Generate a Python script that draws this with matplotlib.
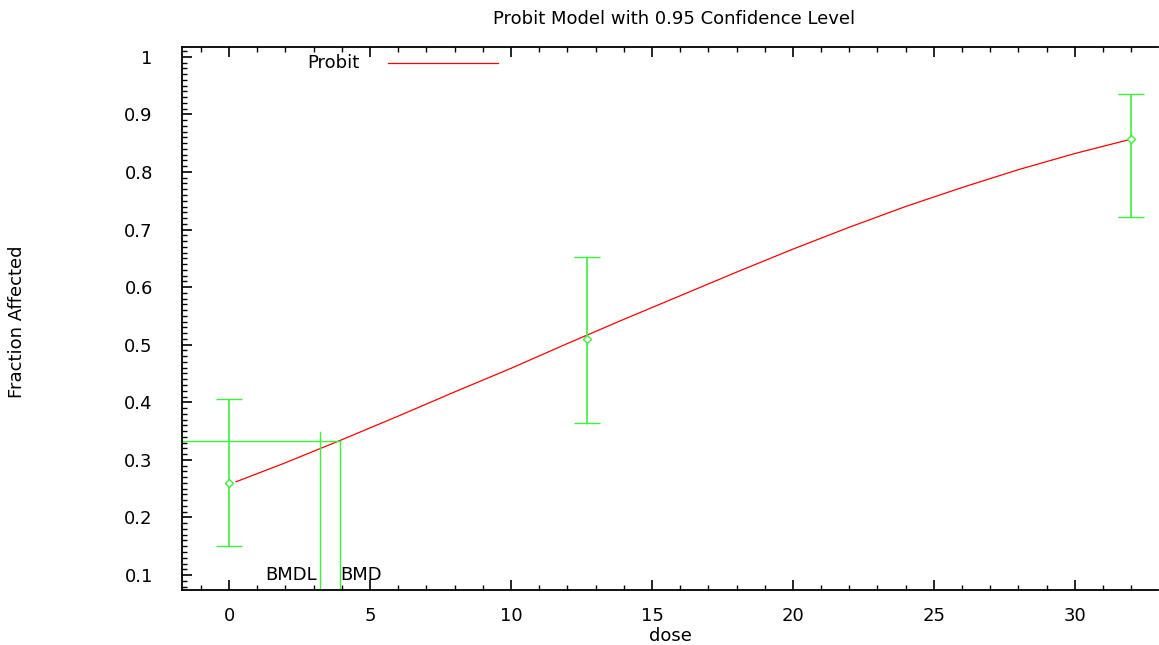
import matplotlib.pyplot as plt
from matplotlib.ticker import MultipleLocator

plt.rcParams['font.family'] = ['DejaVu Sans']

# observed data with 95% confidence limits
dose = [0, 12.7, 32]
frac = [0.26, 0.51, 0.857]
lower = [0.151, 0.364, 0.722]
upper = [0.406, 0.653, 0.935]

# fitted probit curve
curve_x = [0.25, 2, 4, 6, 8, 10, 12, 14, 16, 18, 20, 22, 24, 26, 28, 30, 32]
curve_y = [0.262, 0.295, 0.335, 0.376, 0.418, 0.459, 0.502, 0.544, 0.585, 0.626, 0.666,
           0.704, 0.740, 0.773, 0.804, 0.832, 0.857]

bmd = 3.94
bmdl = 3.23
bmr_level = 0.333
bmdl_top = 0.348

green = '#3cf03c'
fs = 13

fig = plt.figure(figsize=(11.59, 6.45), dpi=100)
ax = fig.add_axes([182/1159, 1 - 590/645, 976/1159, 543/645])

ax.plot(curve_x, curve_y, color='red', lw=0.9)

yerr = [[f - l for f, l in zip(frac, lower)], [u - f for f, u in zip(frac, upper)]]
ax.errorbar(dose, frac, yerr=yerr, fmt='D', color=green, mfc='white', mec=green,
            ms=4, mew=1, capsize=9.5, elinewidth=1.2, capthick=1.2)

# BMD / BMDL markers
ax.plot([-1.67, bmd], [bmr_level, bmr_level], color=green, lw=1)
ax.plot([bmd, bmd], [0.0, bmr_level], color=green, lw=1)
ax.plot([bmdl, bmdl], [0.0, bmdl_top], color=green, lw=1)
ax.text(bmdl - 0.1, 0.1, 'BMDL', ha='right', va='center', fontsize=fs)
ax.text(bmd + 0.0, 0.1, 'BMD', ha='left', va='center', fontsize=fs)

# legend drawn by hand
ax.text(0.182, 0.970, 'Probit', transform=ax.transAxes, ha='right', va='center', fontsize=fs)
ax.plot([0.211, 0.324], [0.970, 0.970], transform=ax.transAxes, color='red', lw=0.9)

ax.set_xlim(-1.67, 32.95)
ax.set_ylim(0.074, 1.017)
ax.set_xticks([0, 5, 10, 15, 20, 25, 30])
ax.set_yticks([0.1, 0.2, 0.3, 0.4, 0.5, 0.6, 0.7, 0.8, 0.9, 1])
ax.set_yticklabels(['0.1', '0.2', '0.3', '0.4', '0.5', '0.6', '0.7', '0.8', '0.9', '1'])
ax.xaxis.set_minor_locator(MultipleLocator(1))
ax.yaxis.set_minor_locator(MultipleLocator(0.01))
ax.tick_params(which='both', direction='in', top=True, right=False, labelsize=fs)
ax.tick_params(axis='y', which='major', pad=21)
ax.tick_params(axis='x', which='major', pad=12)
ax.tick_params(which='major', length=7, width=1.2)
ax.tick_params(which='minor', length=3.5, width=1)
ax.spines['right'].set_visible(False)
for s in ['left', 'bottom', 'top']:
    ax.spines[s].set_linewidth(1.3)

fig.text(674/1159, 1 - 19/645, 'Probit Model with 0.95 Confidence Level', ha='center', va='center', fontsize=fs)
fig.text(670/1159, 1 - 636/645, 'dose', ha='center', va='center', fontsize=fs)
fig.text(17/1159, 1 - 322/645, 'Fraction Affected', ha='center', va='center', rotation=90, fontsize=fs)

fig.savefig('out.png', dpi=100)
